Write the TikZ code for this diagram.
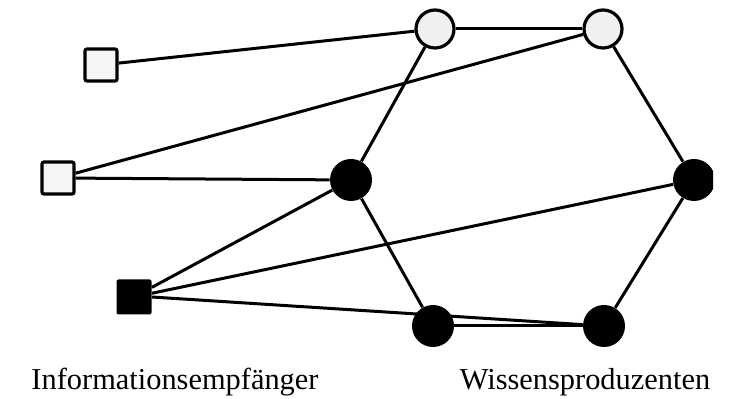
\documentclass[tikz,border=0pt]{standalone}
\usepackage{fontspec}
\setmainfont{Liberation Serif}
\begin{document}
\begin{tikzpicture}[x=0.5pt,y=-0.5pt,
  edge/.style={line width=1.5pt},
  lightcirc/.style={circle,draw,line width=1.6pt,fill=gray!12,minimum size=19pt,inner sep=0pt},
  darkcirc/.style={circle,fill=black,minimum size=21pt,inner sep=0pt},
  lightsq/.style={rectangle,draw,line width=1.6pt,fill=gray!8,minimum size=16pt,inner sep=0pt,rounded corners=1pt},
  darksq/.style={rectangle,fill=black,minimum size=17.5pt,inner sep=0pt,rounded corners=1pt},
  lbl/.style={font=\fontsize{15.2}{17}\selectfont,inner sep=0pt}]
\useasboundingbox (0,0) rectangle (731,399);
\begin{scope}
\clip (0,0) rectangle (713,347);
\node[lightcirc] (c1) at (435,29) {};
\node[lightcirc] (c2) at (603,29) {};
\node[darkcirc] (m) at (351,180) {};
\node[darkcirc] (r) at (694,180) {};
\node[darkcirc] (b1) at (433,326) {};
\node[darkcirc] (b2) at (604,326) {};
\node[lightsq] (s1) at (101,65) {};
\node[lightsq] (s2) at (58,178) {};
\node[darksq] (s3) at (134,297) {};
\draw[edge] (s1) -- (c1);
\draw[edge] (s2) -- (c2);
\draw[edge] (s2) -- (m);
\draw[edge] (c1) -- (c2);
\draw[edge] (c1) -- (m);
\draw[edge] (c2) -- (r);
\draw[edge] (m) -- (b1);
\draw[edge] (r) -- (b2);
\draw[edge] (b1) -- (b2);
\draw[edge] (s3) -- (m);
\draw[edge] (s3) -- (r);
\draw[edge] (s3.east) -- (b2);
\end{scope}
\node[lbl,anchor=base] (l1) at (175,390) {Informationsempfänger};
\node[lbl,anchor=base] (l2) at (585,390) {Wissensproduzenten};
\end{tikzpicture}
\end{document}
